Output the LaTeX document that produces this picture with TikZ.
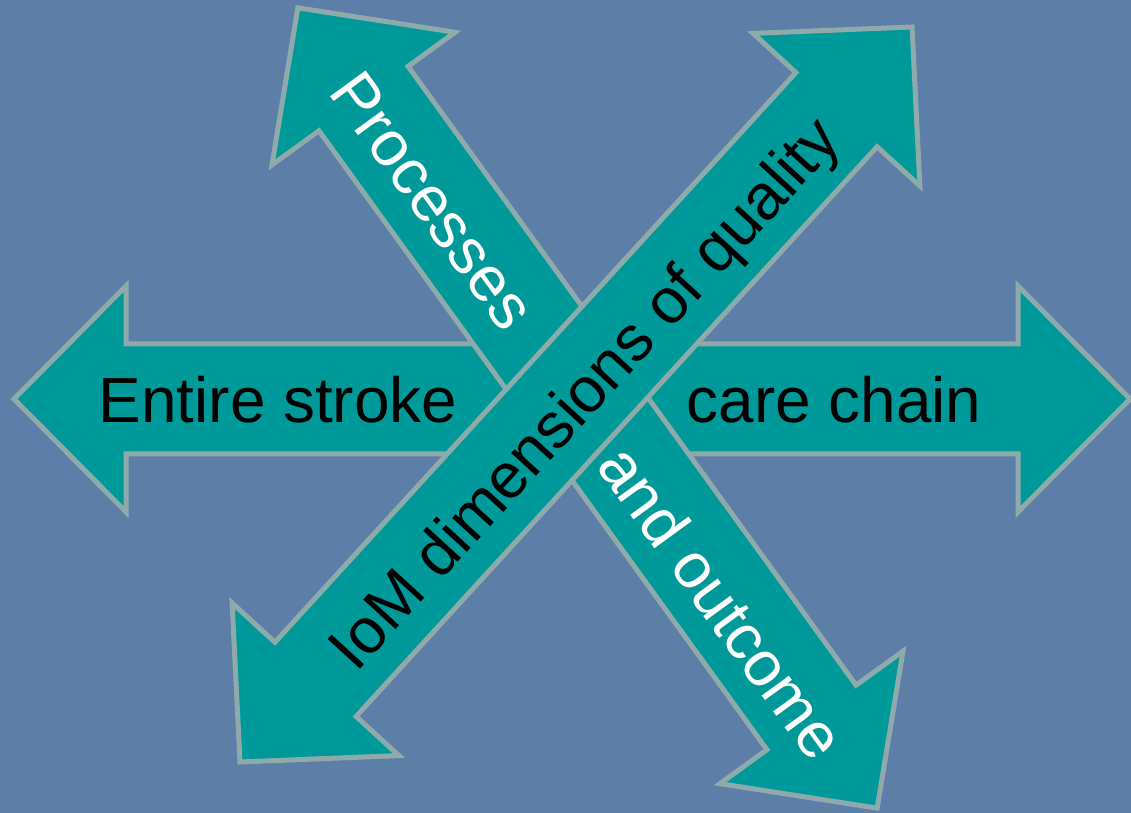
\documentclass[tikz,border=0pt]{standalone}
\usepackage{fontspec}
\setmainfont{Liberation Sans}
\definecolor{slideblue}{RGB}{93,126,166}
\definecolor{arrowteal}{RGB}{0,153,153}
\definecolor{arrowedge}{RGB}{143,170,170}
\usepackage{tikz}

% double-headed block arrow of half length #1, drawn round the origin
\newcommand{\dblarrow}[1]{(-#1,0) -- (-#1+112,113) -- (-#1+112,55) -- (#1-112,55) -- (#1-112,113) -- (#1,0) -- (#1-112,-113) -- (#1-112,-55) -- (-#1+112,-55) -- (-#1+112,-113) -- cycle}

\tikzset{
  bigarrow/.style={fill=arrowteal, draw=arrowedge, line width=0.125cm, line join=miter},
  arrowtext/.style={font=\fontsize{45.4}{50}\selectfont, text height=32.5pt, text depth=0pt, inner sep=0pt},
}

\begin{document}
\begin{tikzpicture}[x=0.025cm, y=0.025cm]
    % Background
    \fill[slideblue] (0,0) rectangle (1131,813);
    \useasboundingbox (0,0) rectangle (1131,813);

    % Horizontal arrow
    \draw[bigarrow, shift={(572,414)}] \dblarrow{558};

    % Processes / outcome arrow
    \draw[bigarrow, shift={(587.5,405)}, rotate=125.9] \dblarrow{494};

    % IoM arrow
    \draw[bigarrow, shift={(576,418.5)}, rotate=47.56] \dblarrow{498};

    % Labels
    \node[arrowtext, black] (entire) at (278,413) {Entire stroke};
    \node[arrowtext, black] (carechain) at (834,413) {care chain};
    \node[arrowtext, white, rotate=-54] (processes) at (434,613) {Processes};
    \node[arrowtext, white, rotate=-54] (outcome) at (722,211) {and outcome};
    \node[arrowtext, black, rotate=47.56] (iom) at (583,421) {IoM dimensions of quality};
\end{tikzpicture}
\end{document}
